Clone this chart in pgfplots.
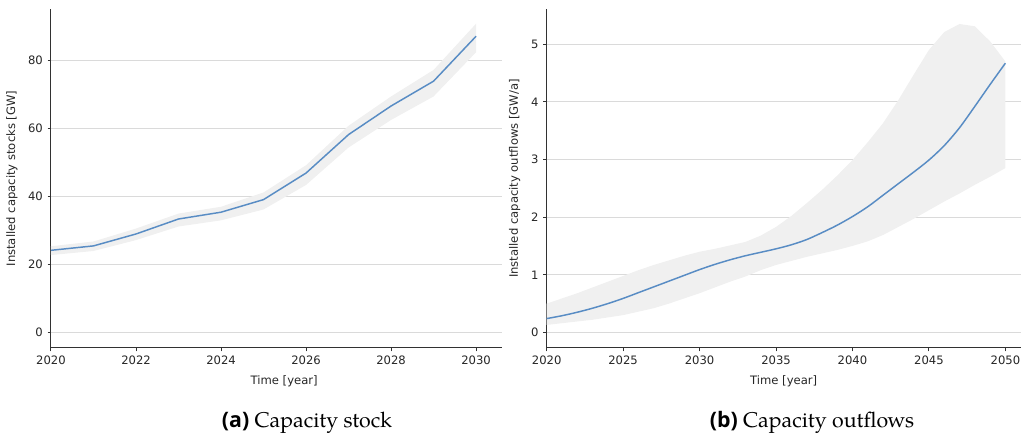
\documentclass[border=0pt]{standalone}
\usepackage{fontspec}
\usepackage{pgfplots}
\pgfplotsset{compat=1.18}
\newfontfamily\plotfont{DejaVu Sans}
\newfontfamily\capsans{Open Sans}
\newfontfamily\capserif{TeX Gyre Pagella}
\definecolor{meanline}{RGB}{88,140,196}
\definecolor{bandfill}{RGB}{240,240,240}
\definecolor{gridgray}{RGB}{218,218,218}
\definecolor{spine}{RGB}{50,50,50}

\pgfplotsset{
  mplstyle/.style={
    scale only axis,
    anchor=south west,
    height=254.25pt,
    axis x line*=bottom,
    axis y line*=left,
    axis line style={spine, line width=0.75pt},
    tick align=outside,
    major tick length=2.6pt,
    tick style={spine, line width=0.75pt},
    ymajorgrids,
    major grid style={gridgray, line width=0.75pt},
    tick label style={font=\plotfont\fontsize{8.7pt}{10pt}\selectfont, text=black!85},
    label style={font=\plotfont\fontsize{8.7pt}{10pt}\selectfont, text=black!85},
    /pgf/number format/assume math mode=true,
    /pgf/number format/set thousands separator={},
    scaled ticks=false,
    clip=false,
  },
}

\begin{document}
\begin{tikzpicture}
\path[use as bounding box] (0,0) rectangle (766.5pt,327pt);

% Installed capacity stock, 2020--2030
\begin{axis}[mplstyle,
  at={(38.25pt,66pt)}, width=338.25pt,
  xmin=2020, xmax=2030.61, ymin=-4.5, ymax=95.1,
  xtick={2020,2022,...,2030}, ytick={0,20,40,60,80},
  xlabel={Time [year]}, ylabel={Installed capacity stocks [GW]},
  xlabel style={at={([yshift=-17pt]axis description cs:0.517,0)}, anchor=north},
  ylabel style={at={([xshift=-21.5pt]axis description cs:0,0.5)}, anchor=south},
]
\addplot[fill=bandfill, draw=none] coordinates {
  (2020,25.4) (2021,26.8) (2022,30.6) (2023,35.0) (2024,37.0) (2025,41.2)
  (2026,49.2) (2027,60.8) (2028,69.4) (2029,77.2) (2030,90.8)
  (2030,82.4) (2029,69.4) (2028,62.5) (2027,54.4) (2026,43.4) (2025,36.2)
  (2024,33.0) (2023,31.2) (2022,27.2) (2021,24.0) (2020,22.8)
} -- cycle;
\addplot[meanline, line width=1.1pt] coordinates {
  (2020,24.2) (2021,25.5) (2022,29.0) (2023,33.4) (2024,35.4) (2025,39.1)
  (2026,46.9) (2027,58.2) (2028,66.6) (2029,73.9) (2030,87.1)
};
\end{axis}

% Installed capacity outflows, 2020--2050
\begin{axis}[mplstyle,
  at={(410pt,66pt)}, width=355.5pt,
  xmin=2020, xmax=2051, ymin=-0.27, ymax=5.61,
  xtick={2020,2025,...,2050}, ytick={0,1,2,3,4,5},
  xlabel={Time [year]}, ylabel={Installed capacity outflows [GW/a]},
  xlabel style={at={([yshift=-17pt]axis description cs:0.5,0)}, anchor=north},
  ylabel style={at={([xshift=-16.3pt]axis description cs:0,0.5)}, anchor=south},
]
\addplot[fill=bandfill, draw=none] coordinates {
  (2020,0.50) (2021,0.59) (2022,0.68) (2023,0.78) (2024,0.88) (2025,0.98)
  (2026,1.08) (2027,1.17) (2028,1.25) (2029,1.33) (2030,1.40) (2031,1.45)
  (2032,1.51) (2033,1.57) (2034,1.68) (2035,1.83) (2036,2.02) (2037,2.24)
  (2038,2.47) (2039,2.72) (2040,2.99) (2041,3.30) (2042,3.63) (2043,4.03)
  (2044,4.47) (2045,4.90) (2046,5.21) (2047,5.35) (2048,5.31) (2049,5.05)
  (2050,4.70)
  (2050,2.85) (2049,2.70) (2048,2.56) (2047,2.41) (2046,2.27) (2045,2.12)
  (2044,1.97) (2043,1.83) (2042,1.69) (2041,1.58) (2040,1.50) (2039,1.43)
  (2038,1.37) (2037,1.31) (2036,1.24) (2035,1.17) (2034,1.08) (2033,0.97)
  (2032,0.88) (2031,0.78) (2030,0.68) (2029,0.59) (2028,0.50) (2027,0.42)
  (2026,0.36) (2025,0.30) (2024,0.26) (2023,0.22) (2022,0.19) (2021,0.16)
  (2020,0.13)
} -- cycle;
\addplot[meanline, line width=1.1pt, smooth] coordinates {
  (2020,0.24) (2021,0.29) (2022,0.35) (2023,0.42) (2024,0.50) (2025,0.59)
  (2026,0.69) (2027,0.79) (2028,0.89) (2029,0.99) (2030,1.09) (2031,1.18)
  (2032,1.26) (2033,1.33) (2034,1.39) (2035,1.45) (2036,1.52) (2037,1.61)
  (2038,1.73) (2039,1.86) (2040,2.01) (2041,2.18) (2042,2.38) (2043,2.58)
  (2044,2.78) (2045,2.99) (2046,3.24) (2047,3.55) (2048,3.92) (2049,4.30)
  (2050,4.67)
};
\end{axis}

% Subfigure captions
\node[anchor=base, inner sep=0pt, font=\capserif\fontsize{16pt}{19pt}\selectfont]
  at (230.25pt,6pt) {{\capsans\bfseries (a)} Capacity stock};
\node[anchor=base, inner sep=0pt, font=\capserif\fontsize{16pt}{19pt}\selectfont]
  at (609pt,6pt) {{\capsans\bfseries (b)} Capacity outflows};
\end{tikzpicture}
\end{document}
